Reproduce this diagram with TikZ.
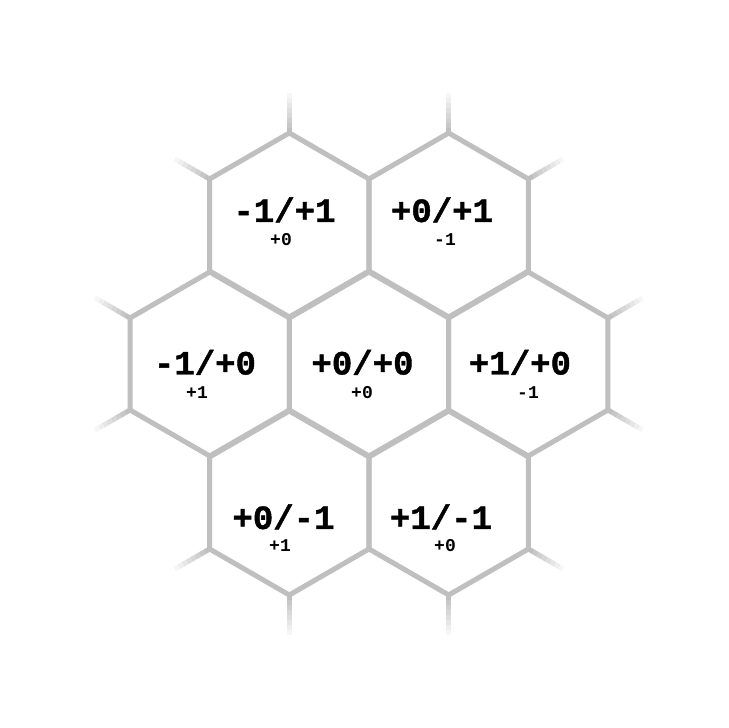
\documentclass[tikz,border=0pt]{standalone}
\usepackage{fontspec}
\newfontfamily\hexmono{Liberation Mono}
\newfontfamily\hexmonoheavy{Liberation Mono Bold}[FakeBold=1.2]
\usetikzlibrary{shapes.geometric, calc}

\begin{document}
\begin{tikzpicture}[x=1pt, y=1pt,
    hexcell/.style={draw=black!25, line width=5pt, regular polygon, regular polygon sides=6,
        shape border rotate=30, minimum size=184pt, inner sep=0pt, outer sep=0pt},
    stubline/.style={line width=5pt, line cap=butt},
    bigtxt/.style={anchor=base, inner sep=0pt, font=\hexmonoheavy\fontsize{34}{34}\selectfont},
    smalltxt/.style={anchor=base, inner sep=0pt, font=\hexmono\bfseries\fontsize{18}{18}\selectfont}]

    % Rahmen
    \fill[white] (0,0) rectangle (728,728);
    \useasboundingbox (0,0) rectangle (728,728);

    % Waben
    \node[hexcell] (h-tl) at (289.3,503) {};
    \node[hexcell] (h-tr) at (448.7,503) {};
    \node[hexcell] (h-l)  at (209.7,364) {};
    \node[hexcell] (h-c)  at (369,364)   {};
    \node[hexcell] (h-r)  at (528.3,364) {};
    \node[hexcell] (h-bl) at (289.3,225) {};
    \node[hexcell] (h-br) at (448.7,225) {};

    % auslaufende Kanten
    \foreach \h/\a in {tl/90, tl/150, tr/90, tr/30, l/150, l/210,
                       r/30, r/330, bl/210, bl/270, br/330, br/270} {
        \foreach \k in {0,...,7} {
            \pgfmathsetmacro{\fade}{1-\k/8}
            \draw[stubline, draw=black!25, draw opacity=\fade]
                ($(h-\h)+(\a:{92+5*\k})$) -- ($(h-\h)+(\a:{92+5*\k+5.2})$);
        }
    }

    % Beschriftung oben
    \node[bigtxt] (q-tl) at (284.5,506) {-1/+1};
    \node[smalltxt] (s-tl) at (281,482) {+0};
    \node[bigtxt] (q-tr) at (442,506) {+0/+1};
    \node[smalltxt] (s-tr) at (445,482) {-1};

    % Beschriftung Mitte
    \node[bigtxt] (q-l) at (205,353.5) {-1/+0};
    \node[smalltxt] (s-l) at (197,329.5) {+1};
    \node[bigtxt] (q-c) at (362.5,353.5) {+0/+0};
    \node[smalltxt] (s-c) at (362,329.5) {+0};
    \node[bigtxt] (q-r) at (520,353.5) {+1/+0};
    \node[smalltxt] (s-r) at (528,329.5) {-1};

    % Beschriftung unten
    \node[bigtxt] (q-bl) at (283.5,199) {+0/-1};
    \node[smalltxt] (s-bl) at (280,176) {+1};
    \node[bigtxt] (q-br) at (441,199) {+1/-1};
    \node[smalltxt] (s-br) at (445,176) {+0};

\end{tikzpicture}
\end{document}
